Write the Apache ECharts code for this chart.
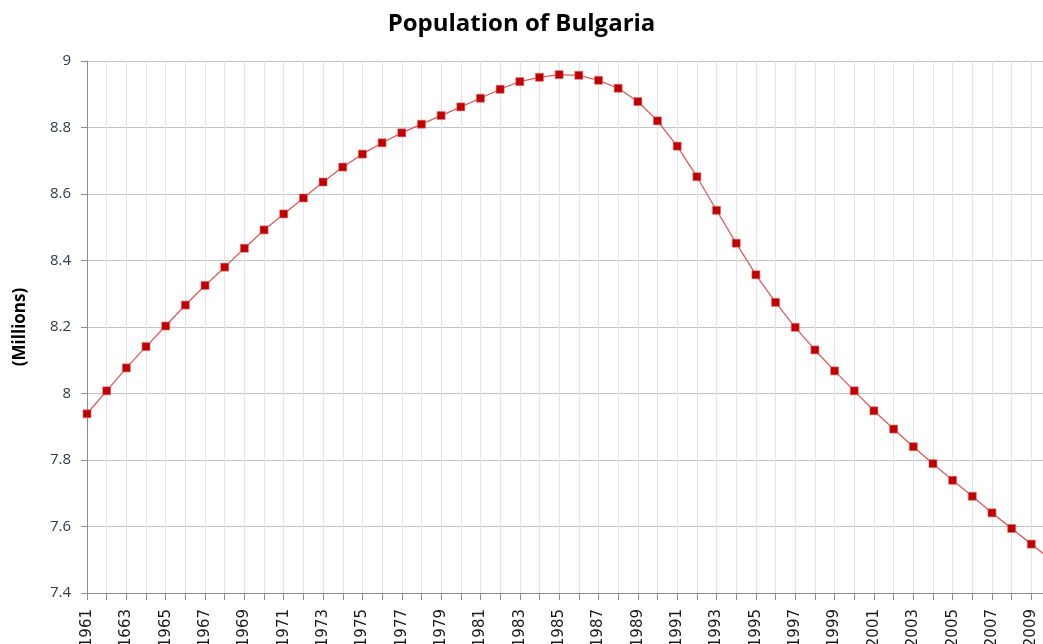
<!DOCTYPE html>
<html>
<head>
<meta charset="utf-8">
<title>Population of Bulgaria</title>
<script src="https://cdn.jsdelivr.net/npm/echarts@6/dist/echarts.min.js"></script>
<style>
  html, body { margin: 0; padding: 0; background: #fff; }
  #chart { width: 1043px; height: 644px; }
</style>
</head>
<body>
<div id="chart"></div>
<script>
// years on the x axis (1961..2010, the last one runs off the right edge)
const years = [
  1961, 1962, 1963, 1964, 1965, 1966, 1967, 1968, 1969, 1970,
  1971, 1972, 1973, 1974, 1975, 1976, 1977, 1978, 1979, 1980,
  1981, 1982, 1983, 1984, 1985, 1986, 1987, 1988, 1989, 1990,
  1991, 1992, 1993, 1994, 1995, 1996, 1997, 1998, 1999, 2000,
  2001, 2002, 2003, 2004, 2005, 2006, 2007, 2008, 2009, 2010
];
// tick labels as printed in the source (note the "1663")
const yearLabels = years.map((y) => (y === 1963 ? "1663" : String(y)));

// population, millions
const population = [
  7.939, 8.008, 8.077, 8.141, 8.203, 8.266, 8.325, 8.380, 8.437, 8.492,
  8.540, 8.588, 8.636, 8.681, 8.720, 8.754, 8.784, 8.810, 8.836, 8.862,
  8.888, 8.915, 8.938, 8.951, 8.959, 8.957, 8.942, 8.918, 8.878, 8.820,
  8.744, 8.652, 8.551, 8.452, 8.357, 8.274, 8.199, 8.131, 8.068, 8.008,
  7.948, 7.893, 7.840, 7.789, 7.739, 7.691, 7.641, 7.594, 7.547, 7.500
];

const chart = echarts.init(document.getElementById("chart"));

const option = {
  backgroundColor: "#ffffff",
  animation: false,
  title: {
    text: "Population of Bulgaria",
    left: "center",
    top: 7,
    textStyle: {
      fontFamily: "Open Sans",
      fontSize: 24,
      fontWeight: "bold",
      color: "#000",
    },
  },
  grid: {
    left: 87,
    top: 61,
    width: 964, // 2010 sits just past the frame
    bottom: 51,
    outerBoundsMode: "none", // labels are allowed to run off the bottom
  },
  xAxis: {
    type: "category",
    data: yearLabels,
    boundaryGap: false,
    axisLine: { show: true, lineStyle: { color: "#8c8c8c", width: 1 } },
    axisTick: {
      show: true,
      interval: 0,
      length: 7,
      lineStyle: { color: "#8c8c8c" },
    },
    splitLine: {
      show: true,
      interval: 0,
      lineStyle: { color: "#e3e3e3", width: 1 },
    },
    axisLabel: {
      interval: 1,
      rotate: 90,
      margin: 16,
      fontFamily: "DejaVu Sans",
      fontSize: 15,
      color: "#1a1a1a",
    },
  },
  yAxis: {
    type: "value",
    min: 7.4,
    max: 9,
    interval: 0.2,
    name: "(Millions)",
    nameLocation: "middle",
    nameGap: 58,
    nameRotate: 90,
    nameTextStyle: {
      fontFamily: "Open Sans",
      fontSize: 17,
      fontWeight: "bold",
      color: "#000",
    },
    axisLine: { show: true, lineStyle: { color: "#8c8c8c", width: 1 } },
    axisTick: { show: true, length: 6, lineStyle: { color: "#8c8c8c" } },
    splitLine: { show: true, lineStyle: { color: "#c4c4c4", width: 1 } },
    axisLabel: {
      margin: 16,
      fontFamily: "Open Sans",
      fontSize: 15,
      color: "#333a45",
      formatter: (v) => String(Math.round(v * 10) / 10),
    },
  },
  series: [
    {
      type: "line",
      data: population,
      symbol: "rect",
      symbolSize: 8,
      lineStyle: { color: "#e05a5a", width: 1.3 },
      itemStyle: { color: "#c00000", borderColor: "#e06a6a", borderWidth: 0.6 },
    },
  ],
};

chart.setOption(option);
</script>
</body>
</html>
